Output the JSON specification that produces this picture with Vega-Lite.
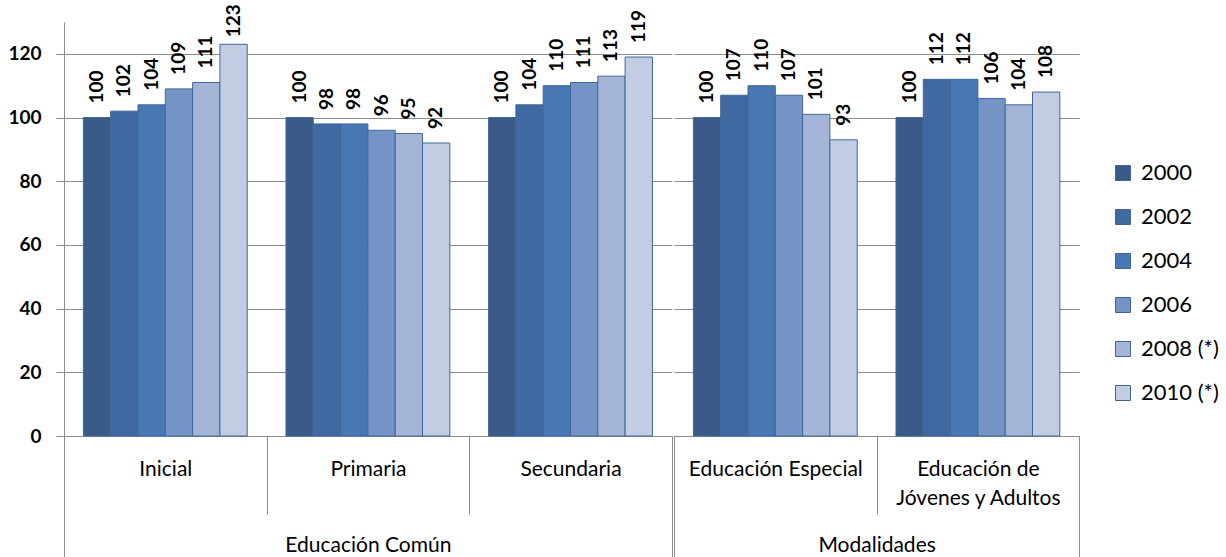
{
  "$schema": "https://vega.github.io/schema/vega-lite/v6.json",
  "padding": {"left": 7, "top": 4, "right": 5, "bottom": 0},
  "background": "white",
  "data": {"values": [
    {"group": "Educación Común", "category": "Inicial", "year": "2000", "value": 100},
    {"group": "Educación Común", "category": "Inicial", "year": "2002", "value": 102},
    {"group": "Educación Común", "category": "Inicial", "year": "2004", "value": 104},
    {"group": "Educación Común", "category": "Inicial", "year": "2006", "value": 109},
    {"group": "Educación Común", "category": "Inicial", "year": "2008 (*)", "value": 111},
    {"group": "Educación Común", "category": "Inicial", "year": "2010 (*)", "value": 123},
    {"group": "Educación Común", "category": "Primaria", "year": "2000", "value": 100},
    {"group": "Educación Común", "category": "Primaria", "year": "2002", "value": 98},
    {"group": "Educación Común", "category": "Primaria", "year": "2004", "value": 98},
    {"group": "Educación Común", "category": "Primaria", "year": "2006", "value": 96},
    {"group": "Educación Común", "category": "Primaria", "year": "2008 (*)", "value": 95},
    {"group": "Educación Común", "category": "Primaria", "year": "2010 (*)", "value": 92},
    {"group": "Educación Común", "category": "Secundaria", "year": "2000", "value": 100},
    {"group": "Educación Común", "category": "Secundaria", "year": "2002", "value": 104},
    {"group": "Educación Común", "category": "Secundaria", "year": "2004", "value": 110},
    {"group": "Educación Común", "category": "Secundaria", "year": "2006", "value": 111},
    {"group": "Educación Común", "category": "Secundaria", "year": "2008 (*)", "value": 113},
    {"group": "Educación Común", "category": "Secundaria", "year": "2010 (*)", "value": 119},
    {"group": "Modalidades", "category": "Educación Especial", "year": "2000", "value": 100},
    {"group": "Modalidades", "category": "Educación Especial", "year": "2002", "value": 107},
    {"group": "Modalidades", "category": "Educación Especial", "year": "2004", "value": 110},
    {"group": "Modalidades", "category": "Educación Especial", "year": "2006", "value": 107},
    {"group": "Modalidades", "category": "Educación Especial", "year": "2008 (*)", "value": 101},
    {"group": "Modalidades", "category": "Educación Especial", "year": "2010 (*)", "value": 93},
    {"group": "Modalidades", "category": "Educación de Jóvenes y Adultos", "year": "2000", "value": 100},
    {"group": "Modalidades", "category": "Educación de Jóvenes y Adultos", "year": "2002", "value": 112},
    {"group": "Modalidades", "category": "Educación de Jóvenes y Adultos", "year": "2004", "value": 112},
    {"group": "Modalidades", "category": "Educación de Jóvenes y Adultos", "year": "2006", "value": 106},
    {"group": "Modalidades", "category": "Educación de Jóvenes y Adultos", "year": "2008 (*)", "value": 104},
    {"group": "Modalidades", "category": "Educación de Jóvenes y Adultos", "year": "2010 (*)", "value": 108}
  ]},
  "spacing": 0,
  "hconcat": [
    {
      "width": 607.8,
      "height": 414,
      "transform": [{"filter": "datum.group === 'Educación Común'"}],
      "layer": [
        {
          "encoding": {
            "x": {"field": "category", "type": "nominal", "sort": null,
              "scale": {"paddingInner": 0, "paddingOuter": 0},
              "axis": {"orient": "bottom", "title": null, "tickBand": "extent", "tickSize": 78, "labelPadding": -56, "labelFontSize": 21, "labelLimit": 0, "labelOverlap": false, "labelLineHeight": 29, "labelAngle": 0,
                "labelExpr": "datum.value == 'Educación de Jóvenes y Adultos' ? ['Educación de', 'Jóvenes y Adultos'] : datum.label"}},
            "xOffset": {"field": "year", "type": "nominal", "sort": null, "scale": {"paddingInner": 0, "paddingOuter": 0.71}},
            "y": {"field": "value", "type": "quantitative",
              "scale": {"domain": [0, 130], "nice": false, "zero": true},
              "axis": {"title": null, "values": [0, 20, 40, 60, 80, 100, 120], "grid": true, "tickSize": 8, "labelPadding": 15, "labelFontSize": 19, "labelFontWeight": "bold"}}
          },
          "layer": [
            {"mark": {"type": "bar", "stroke": "#41679A", "strokeWidth": 1},
             "encoding": {"color": {"field": "year", "type": "nominal", "sort": null,
               "scale": {"range": ["#3A5B88", "#3F69A0", "#4778B3", "#7494C6", "#A3B4D6", "#C2CDE3"]},
               "legend": {"orient": "none", "legendX": 1048, "legendY": 140, "title": null, "symbolType": "square", "symbolSize": 225, "symbolStrokeColor": "#41679A", "symbolStrokeWidth": 1, "labelFontSize": 22, "labelColor": "#000", "labelOffset": 7, "rowPadding": 22, "padding": 0}}}},
            {"transform": [{"filter": "datum.value <= 120"}],
             "mark": {"type": "text", "angle": 270, "align": "left", "baseline": "middle", "dx": 14, "fontSize": 19, "fontWeight": "bold", "color": "#000"},
             "encoding": {"text": {"field": "value", "type": "quantitative"}}},
            {"transform": [{"filter": "datum.value > 120"}],
             "mark": {"type": "text", "angle": 270, "align": "left", "baseline": "middle", "dx": 7, "fontSize": 19, "fontWeight": "bold", "color": "#000"},
             "encoding": {"text": {"field": "value", "type": "quantitative"}}}
          ]
        },
        {
          "mark": {"type": "rule", "opacity": 0},
          "encoding": {
            "x": {"field": "group", "type": "nominal", "scale": {"paddingInner": 0, "paddingOuter": 0},
              "axis": {"orient": "bottom", "title": null, "tickBand": "extent", "tickSize": 121, "domain": false, "labelPadding": -23, "labelFontSize": 21, "labelLimit": 0, "labelAngle": 0}}
          }
        }
      ],
      "resolve": {"scale": {"x": "independent"}, "axis": {"x": "independent"}}
    },
    {
      "width": 405.2,
      "height": 414,
      "transform": [{"filter": "datum.group === 'Modalidades'"}],
      "layer": [
        {
          "encoding": {
            "x": {"field": "category", "type": "nominal", "sort": null,
              "scale": {"paddingInner": 0, "paddingOuter": 0},
              "axis": {"orient": "bottom", "title": null, "tickBand": "extent", "tickSize": 78, "labelPadding": -56, "labelFontSize": 21, "labelLimit": 0, "labelOverlap": false, "labelLineHeight": 29, "labelAngle": 0,
                "labelExpr": "datum.value == 'Educación de Jóvenes y Adultos' ? ['Educación de', 'Jóvenes y Adultos'] : datum.label"}},
            "xOffset": {"field": "year", "type": "nominal", "sort": null, "scale": {"paddingInner": 0, "paddingOuter": 0.71}},
            "y": {"field": "value", "type": "quantitative",
              "scale": {"domain": [0, 130], "nice": false, "zero": true},
              "axis": {"title": null, "values": [0, 20, 40, 60, 80, 100, 120], "grid": true, "labels": false, "ticks": false, "domain": false}}
          },
          "layer": [
            {"mark": {"type": "bar", "stroke": "#41679A", "strokeWidth": 1},
             "encoding": {"color": {"field": "year", "type": "nominal", "sort": null,
               "scale": {"range": ["#3A5B88", "#3F69A0", "#4778B3", "#7494C6", "#A3B4D6", "#C2CDE3"]}}}},
            {"mark": {"type": "text", "angle": 270, "align": "left", "baseline": "middle", "dx": 14, "fontSize": 19, "fontWeight": "bold", "color": "#000"},
             "encoding": {"text": {"field": "value", "type": "quantitative"}}}
          ]
        },
        {
          "mark": {"type": "rule", "opacity": 0},
          "encoding": {
            "x": {"field": "group", "type": "nominal", "scale": {"paddingInner": 0, "paddingOuter": 0},
              "axis": {"orient": "bottom", "title": null, "tickBand": "extent", "tickSize": 121, "domain": false, "labelPadding": -23, "labelFontSize": 21, "labelLimit": 0, "labelAngle": 0}}
          }
        }
      ],
      "resolve": {"scale": {"x": "independent"}, "axis": {"x": "independent"}}
    }
  ],
  "resolve": {"scale": {"color": "shared"}, "legend": {"color": "shared"}},
  "config": {
    "font": "Lato",
    "view": {"stroke": null},
    "axis": {"labelFont": "Lato", "labelColor": "#000", "domainColor": "#8C8C8C", "tickColor": "#8C8C8C", "gridColor": "#8C8C8C", "domainWidth": 1, "tickWidth": 1, "gridWidth": 1},
    "legend": {"labelFont": "Lato"}
  }
}
